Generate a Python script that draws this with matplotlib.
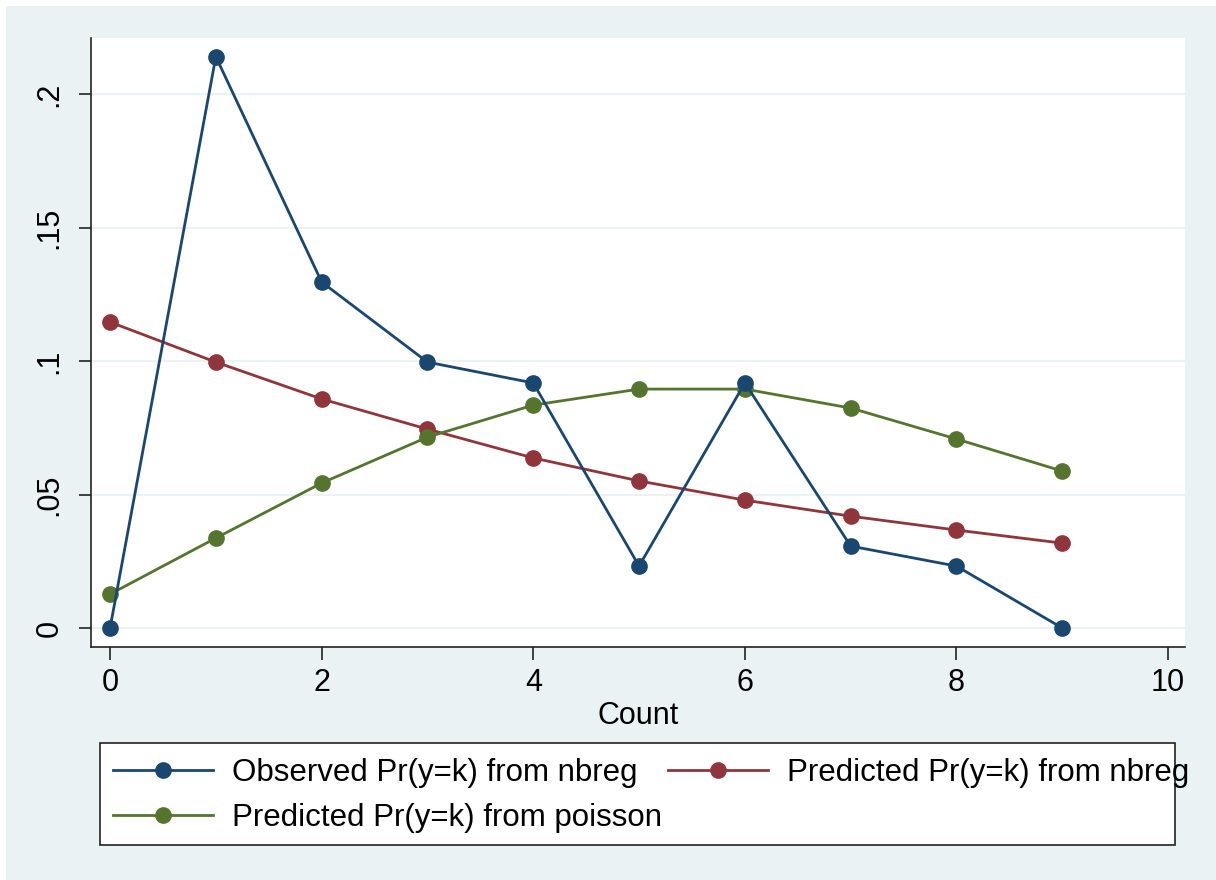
import numpy as np
import matplotlib
matplotlib.use("Agg")
import matplotlib.pyplot as plt
from matplotlib.patches import Rectangle

plt.rcParams['font.family'] = ['Liberation Sans', 'DejaVu Sans']

count = [0, 1, 2, 3, 4, 5, 6, 7, 8, 9]
observed_nbreg = [0.0, 0.214, 0.1296, 0.0996, 0.0918, 0.0232, 0.0918, 0.0307, 0.0232, 0.0]
predicted_nbreg = [0.1146, 0.0996, 0.0858, 0.0745, 0.0637, 0.0551, 0.0479, 0.0419, 0.0367, 0.0318]
predicted_poisson = [0.0127, 0.0337, 0.0543, 0.0715, 0.0835, 0.0895, 0.0895, 0.0824, 0.0708, 0.0588]

yticks = [0, 0.05, 0.1, 0.15, 0.2]
ytick_labels = ['0', '.05', '.1', '.15', '.2']
xticks = [0, 2, 4, 6, 8, 10]

navy = '#1A476F'
maroon = '#90353B'
green = '#55752F'
bg = '#EAF2F3'
W, H = 1216, 880
fs = 22

fig = plt.figure(figsize=(W/100, H/100), dpi=100, facecolor='white')
fig.patches.append(Rectangle((6/W, 0), 1 - 6/W, 1 - 6/H, transform=fig.transFigure,
                             facecolor=bg, edgecolor='none', zorder=-10))
# legend box (text is allowed to run past it, like in the original)
fig.patches.append(Rectangle((100/W, (H-845)/H), (1175-100)/W, (845-743)/H,
                             transform=fig.transFigure, facecolor='white',
                             edgecolor='#222222', lw=1.2, zorder=-5))

ax = fig.add_axes([91/W, (H-647)/H, (1185-91)/W, (647-38)/H])
ax.set_facecolor('white')

kw = dict(lw=2.0, marker='o', ms=11, clip_on=False)
l1, = ax.plot(count, observed_nbreg, color=navy, label='Observed Pr(y=k) from nbreg', zorder=4, **kw)
l2, = ax.plot(count, predicted_nbreg, color=maroon, label='Predicted Pr(y=k) from nbreg', zorder=3, **kw)
l3, = ax.plot(count, predicted_poisson, color=green, label='Predicted Pr(y=k) from poisson', zorder=3, **kw)

ax.set_xlim(-0.18, 10.16)
ax.set_ylim(-0.0071, 0.221)
ax.set_xticks(xticks)
ax.set_xticklabels([str(v) for v in xticks])
ax.set_yticks(yticks)
ax.set_yticklabels(ytick_labels, rotation=90, va='center')
ax.yaxis.grid(True, color=bg, lw=1.5)
ax.set_axisbelow(True)

for s in ['top', 'right']:
    ax.spines[s].set_visible(False)
for s in ['left', 'bottom']:
    ax.spines[s].set_color('#222222')
    ax.spines[s].set_linewidth(1.2)
ax.tick_params(axis='both', direction='out', length=9, width=1.2, color='#222222',
               labelsize=fs)
ax.tick_params(axis='x', pad=6)
ax.tick_params(axis='y', pad=10)
ax.set_xlabel('Count', fontsize=fs, labelpad=2)

lkw = dict(fontsize=22.5, frameon=False, handlelength=3.2, handletextpad=0.6,
           borderpad=0, borderaxespad=0, labelspacing=0.5, bbox_transform=fig.transFigure)
legA = fig.legend([l1, l3], [l1.get_label(), l3.get_label()], loc='center left',
                  bbox_to_anchor=(113/W, (H-795.5)/H), **lkw)
legB = fig.legend([l2], [l2.get_label()], loc='center left',
                  bbox_to_anchor=(668/W, (H-773)/H), **lkw)

fig.savefig('out.png', dpi=100, facecolor=fig.get_facecolor())
